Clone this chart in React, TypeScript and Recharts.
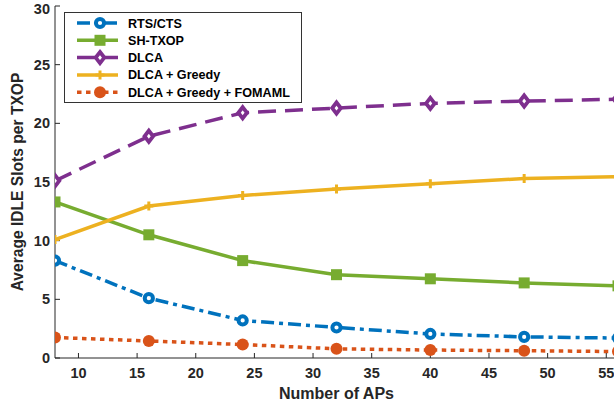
import React from 'react';
import { LineChart, Line, XAxis, YAxis, Legend } from 'recharts';

const aps = [8, 16, 24, 32, 40, 48, 56];
const rtsCts = [8.3, 5.1, 3.2, 2.6, 2.05, 1.8, 1.7];
const shTxop = [13.3, 10.5, 8.3, 7.1, 6.75, 6.4, 6.15];
const dlca = [15.1, 18.9, 20.9, 21.3, 21.7, 21.9, 22.05];
const dlcaGreedy = [10.1, 12.95, 13.85, 14.4, 14.85, 15.3, 15.45];
const fomaml = [1.75, 1.45, 1.15, 0.78, 0.68, 0.62, 0.55];

const xTicks = [10, 15, 20, 25, 30, 35, 40, 45, 50, 55];
const yTicks = [0, 5, 10, 15, 20, 25, 30];

const data = aps.map((x, i) => ({
  x,
  rts: rtsCts[i],
  sh: shTxop[i],
  dlca: dlca[i],
  greedy: dlcaGreedy[i],
  fomaml: fomaml[i],
}));

const FONT = '"Liberation Sans", Arial, Helvetica, sans-serif';
const TXT = '#262626';

const C_BLUE = '#0072BD';
const C_GREEN = '#77AC30';
const C_PURPLE = '#7E2F8E';
const C_YELLOW = '#EDB120';
const C_ORANGE = '#D95319';

type MProps = { cx: number; cy: number };

const CircleOpen = ({ cx, cy }: MProps) => (
  <circle cx={cx} cy={cy} r={4.1} fill="#fff" stroke={C_BLUE} strokeWidth={4} />
);
const SquareM = ({ cx, cy }: MProps) => (
  <rect x={cx - 5.5} y={cy - 5.5} width={11} height={11} fill={C_GREEN} />
);
const DiamondM = ({ cx, cy }: MProps) => (
  <path
    d={`M${cx},${cy - 5.6} L${cx + 4.3},${cy} L${cx},${cy + 5.6} L${cx - 4.3},${cy} Z`}
    fill="#fff"
    stroke={C_PURPLE}
    strokeWidth={3.8}
    strokeLinejoin="miter"
  />
);
const PlusM = ({ cx, cy }: MProps) => (
  <path
    d={`M${cx - 4.5},${cy} L${cx + 4.5},${cy} M${cx},${cy - 4.5} L${cx},${cy + 4.5}`}
    stroke={C_YELLOW}
    strokeWidth={3}
  />
);
const CircleFilled = ({ cx, cy }: MProps) => (
  <circle cx={cx} cy={cy} r={6} fill={C_ORANGE} />
);

const mk = (M: (p: MProps) => React.ReactElement) => (props: any) => {
  const { cx, cy, index } = props;
  if (cx == null || cy == null) return <g key={index} />;
  return <g key={`m-${index}`}><M cx={cx} cy={cy} /></g>;
};

const series = [
  { key: 'rts', name: 'RTS/CTS', color: C_BLUE, dash: '13 5 4 5', marker: CircleOpen },
  { key: 'sh', name: 'SH-TXOP', color: C_GREEN, dash: undefined, marker: SquareM },
  { key: 'dlca', name: 'DLCA', color: C_PURPLE, dash: '18 9', marker: DiamondM },
  { key: 'greedy', name: 'DLCA + Greedy', color: C_YELLOW, dash: undefined, marker: PlusM },
  { key: 'fomaml', name: 'DLCA + Greedy + FOMAML', color: C_ORANGE, dash: '4.5 4.5', marker: CircleFilled },
];

const LegendBox = () => {
  const rowH = 17.3;
  return (
    <svg width={238} height={91} style={{ display: 'block' }}>
      <rect x={0.5} y={0.5} width={237} height={90} fill="#fff" stroke="#333" strokeWidth={1} />
      {series.map((s, i) => {
        const y = 11 + i * rowH;
        const M = s.marker;
        return (
          <g key={s.key}>
            <line x1={13} x2={54} y1={y} y2={y} stroke={s.color} strokeWidth={3.5} strokeDasharray={s.dash} />
            <M cx={36} cy={y} />
            <text x={64} y={y + 4.5} fontFamily={FONT} fontWeight="bold" fontSize={12.6} fill="#000">
              {s.name}
            </text>
          </g>
        );
      })}
    </svg>
  );
};

const YLabel = (props: any) => {
  const vb = props.viewBox || { y: 6, height: 352 };
  const cy = vb.y + vb.height / 2;
  return (
    <text
      x={17}
      y={cy}
      transform={`rotate(-90, 17, ${cy})`}
      textAnchor="middle"
      dominantBaseline="central"
      fontFamily={FONT}
      fontWeight="bold"
      fontSize={15.6}
      fill={TXT}
    >
      Average IDLE Slots per TXOP
    </text>
  );
};

const XLabel = (props: any) => {
  const vb = props.viewBox || { x: 55, width: 563, y: 358 };
  return (
    <text
      x={vb.x + vb.width / 2}
      y={vb.y + 41}
      textAnchor="middle"
      fontFamily={FONT}
      fontWeight="bold"
      fontSize={16}
      fill={TXT}
    >
      Number of APs
    </text>
  );
};

const tickStyle = { fontFamily: FONT, fontWeight: 'bold', fontSize: 14.5, fill: TXT };

export default function App() {
  return (
    <div
      style={{
        position: 'fixed',
        left: 0,
        top: 0,
        width: 614,
        height: 409,
        overflow: 'hidden',
        background: '#fff',
      }}
    >
      <LineChart
        width={640}
        height={409}
        data={data}
        margin={{ top: 6, right: 22, bottom: 0, left: 0 }}
      >
        <XAxis
          dataKey="x"
          type="number"
          domain={[8, 56]}
          ticks={xTicks}
          allowDataOverflow
          height={51}
          stroke="#262626"
          tickSize={-5}
          tickMargin={15}
          tick={tickStyle}
          label={<XLabel />}
        />
        <XAxis
          xAxisId="top"
          dataKey="x"
          type="number"
          orientation="top"
          domain={[8, 56]}
          ticks={xTicks}
          height={0}
          stroke="#262626"
          tickSize={-5}
          tickFormatter={() => ''}
        />
        <YAxis
          domain={[0, 30]}
          ticks={yTicks}
          width={55}
          stroke="#262626"
          tickSize={-5}
          tickMargin={10}
          tick={tickStyle}
          label={<YLabel />}
        />
        <YAxis
          yAxisId="right"
          orientation="right"
          domain={[0, 30]}
          ticks={yTicks}
          width={0}
          stroke="#262626"
          tickSize={-5}
          tickFormatter={() => ''}
        />
        <Legend
          layout="vertical"
          align="center"
          verticalAlign="middle"
          content={<LegendBox />}
          wrapperStyle={{ left: 64, top: 12, width: 238, height: 91, margin: 0 }}
        />
        {series.map((s) => (
          <Line
            key={s.key}
            dataKey={s.key}
            name={s.name}
            stroke={s.color}
            strokeWidth={3.5}
            strokeDasharray={s.dash}
            type="linear"
            dot={mk(s.marker)}
            activeDot={false}
            isAnimationActive={false}
          />
        ))}
      </LineChart>
    </div>
  );
}
